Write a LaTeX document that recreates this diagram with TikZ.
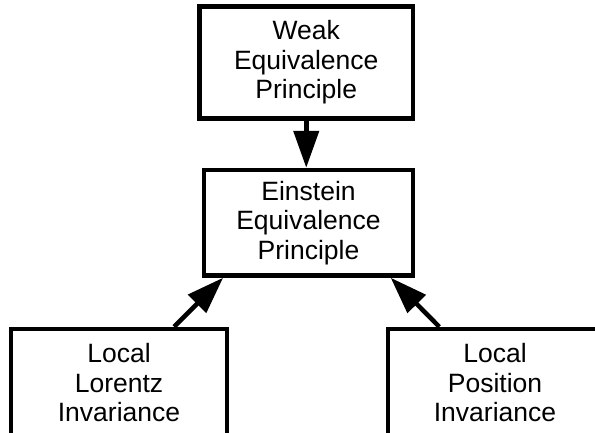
\documentclass[tikz,border=0pt]{standalone}
\usepackage{fontspec}
\setmainfont{Liberation Sans}
\usetikzlibrary{arrows.meta,calc}
\begin{document}
\begin{tikzpicture}[x=1pt,y=-1pt,
  box/.style={draw=black,line width=4.5pt,fill=white,align=center,inner sep=0pt,
    font=\fontsize{26.5}{29.5}\selectfont},
  conn/.style={line width=4.5pt,-{Triangle[length=37pt,width=25pt]}}]
\useasboundingbox (0,0) rectangle (595,432);
\node[box,minimum width=213.5pt,minimum height=112pt] (wep) at (306.25,62.5) {Weak\\Equivalence\\Principle};
\node[box,minimum width=209pt,minimum height=105.5pt] (eep) at (308.5,222.75) {Einstein\\Equivalence\\Principle};
\node[box,minimum width=216pt,minimum height=108pt] (lli) at (119,383) {Local\\Lorentz\\Invariance};
\node[box,minimum width=214pt,minimum height=108pt] (lpi) at (495,383) {Local\\Position\\Invariance};
\coordinate (eepin) at (wep.south |- eep.north);
\coordinate (llitop) at ($(lli.north west)!0.75!(lli.north east)$);
\coordinate (lpitop) at ($(lpi.north west)!0.245!(lpi.north east)$);
\coordinate (eepsl) at ($(eep.south west)!0.1!(eep.south east)$);
\coordinate (eepsr) at ($(eep.south west)!0.885!(eep.south east)$);
\draw[conn] (wep.south) -- (eepin);
\draw[conn] (llitop) -- (eepsl);
\draw[conn] (lpitop) -- (eepsr);
\end{tikzpicture}
\end{document}
